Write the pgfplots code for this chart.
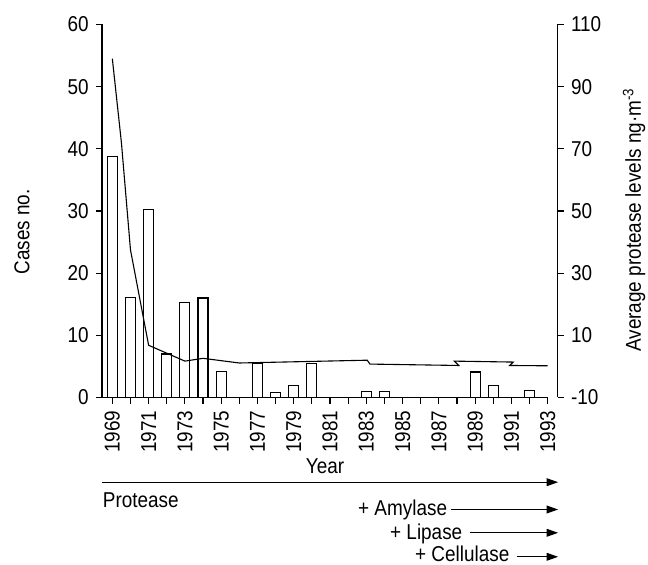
\documentclass[border=0pt]{standalone}
\usepackage{fontspec}
\setmainfont{Liberation Sans}[FakeStretch=0.88]
\usepackage{pgfplots}
\pgfplotsset{compat=1.18}
\usetikzlibrary{arrows.meta}

\pgfplotstableread{
year cases
1969 38.7
1970 16.1
1971 30.3
1972 7.0
1973 15.3
1974 16.0
1975 4.2
1977 5.4
1978 0.8
1979 2.0
1980 5.5
1983 0.9
1984 0.9
1989 4.1
1990 2.0
1992 1.15
}\casestable

\pgfplotstableread{
year level
1969 99
1969.5 72
1970 37.5
1971 6.8
1973 1.7
1974 2.6
1976 1.1
1983.05 2.0
1983.2 0.75
1988.1 0.3
1987.85 1.7
1991.1 1.4
1990.9 0.3
1993 0.2
}\proteasetable

\begin{document}
\fontsize{21.5bp}{25bp}\selectfont
\begin{tikzpicture}[x=1bp,y=1bp,line width=1.1bp]
\useasboundingbox (-102,-167.5) rectangle (546,397.5);
\pgfplotsset{
  every axis/.append style={
    scale only axis,
    at={(0,0)}, anchor=south west,
    height=373bp,
    tick align=outside,
    major tick length=6bp,
    minor tick length=6bp,
    every tick/.style={black, line width=1.1bp},
    axis line style={-, line width=1.1bp},
    /pgf/number format/assume math mode=true,
    /pgf/number format/1000 sep={},
    tick label style={font=\fontsize{21.5bp}{25bp}\selectfont},
  }
}
\begin{axis}[
  width=445.7bp,
  xmin=1968.43, xmax=1993,
  ymin=0, ymax=60,
  axis y line*=left, axis x line*=bottom,
  xtick={1969,1971,...,1993},
  minor xtick={1970,1972,...,1992},
  xticklabel style={rotate=90, anchor=east},
  ytick={0,10,...,60},
  clip=false,
]
\addplot[ybar, bar width=10bp, draw=black, fill=white, line width=1.1bp] table[x=year,y=cases] {\casestable};
\end{axis}
\begin{axis}[
  width=455.7bp,
  xmin=1968.43, xmax=1993.55,
  ymin=-10, ymax=110,
  axis y line*=right, axis x line=none,
  ytick={-10,10,30,50,70,90,110},
  yticklabels={-10,10,30,50,70,90,110},
  clip=false,
]
\addplot[black, line width=1.1bp, mark=none] table[x=year,y=level] {\proteasetable};
\end{axis}
% axis titles
\node[rotate=90] at (-80,165.5) {Cases no.};
\node[rotate=90] at (532,177.5) {Average protease levels ng·m\textsuperscript{-3}};
\node at (223,-69) {Year};
% enzyme arrows
\draw[-{Triangle[length=10bp,width=7bp]}] (-0.5,-84.7) -- (455,-84.7);
\node[anchor=base west, inner sep=0pt] at (0.7,-109.7) {Protease};
\node[anchor=base west, inner sep=0pt] at (256,-118) {+ Amylase};
\draw[-{Triangle[length=10bp,width=7bp]}] (349,-112) -- (455,-112);
\node[anchor=base west, inner sep=0pt] at (288,-141.5) {+ Lipase};
\draw[-{Triangle[length=10bp,width=7bp]}] (368,-135.3) -- (455,-135.3);
\node[anchor=base west, inner sep=0pt] at (313,-164.3) {+ Cellulase};
\draw[-{Triangle[length=10bp,width=7bp]}] (414.7,-159.3) -- (455,-159.3);
\end{tikzpicture}
\end{document}
